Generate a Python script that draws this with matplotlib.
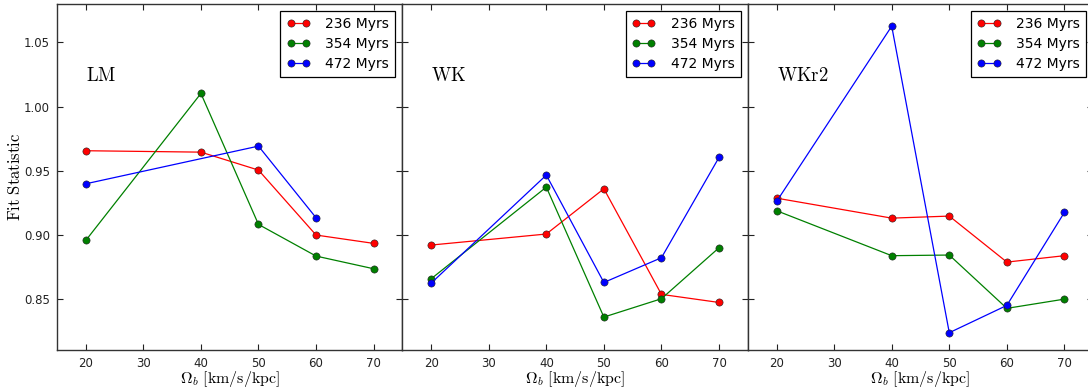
import matplotlib
matplotlib.use("Agg")
import matplotlib.pyplot as plt

plt.rcParams["mathtext.fontset"] = "cm"
plt.rcParams["font.family"] = ["DejaVu Sans"]

omega = [20, 40, 50, 60, 70]
ages = ["236 Myrs", "354 Myrs", "472 Myrs"]
colors = ["#ff0000", "#008000", "#0000ff"]
models = ["LM", "WK", "WKr2"]

# LM model
lm_236 = [0.9655, 0.9644, 0.9504, 0.8997, 0.8932]
lm_354 = [0.8955, 1.0102, 0.9080, 0.8833, 0.8734]
lm_472_x = [20, 50, 60]
lm_472 = [0.9397, 0.9691, 0.9132]

# WK model
wk_236 = [0.8919, 0.9005, 0.9358, 0.8534, 0.8471]
wk_354 = [0.8656, 0.9371, 0.8357, 0.8500, 0.8898]
wk_472 = [0.8622, 0.9465, 0.8627, 0.8820, 0.9603]

# WKr2 model
wkr2_236 = [0.9285, 0.9129, 0.9145, 0.8786, 0.8836]
wkr2_354 = [0.9187, 0.8836, 0.8841, 0.8425, 0.8497]
wkr2_472 = [0.9259, 1.0627, 0.8235, 0.8448, 0.9174]

panels = [
    [(omega, lm_236), (omega, lm_354), (lm_472_x, lm_472)],
    [(omega, wk_236), (omega, wk_354), (omega, wk_472)],
    [(omega, wkr2_236), (omega, wkr2_354), (omega, wkr2_472)],
]

W, H = 1088, 392
fig = plt.figure(figsize=(W / 100, H / 100), dpi=100)
fig.patch.set_facecolor("white")

ax_left, ax_w = 57, 345.4
ax_bottom, ax_top = 350, 4

for i, (model, series) in enumerate(zip(models, panels)):
    ax = fig.add_axes([(ax_left + i * ax_w) / W, (H - ax_bottom) / H,
                       ax_w / W, (ax_bottom - ax_top) / H])
    for (xs, ys), label, c in zip(series, ages, colors):
        ax.plot(xs, ys, "-o", color=c, lw=0.9, ms=5.2, mec="#202020",
                mew=0.4, label=label)
    ax.set_xlim(15, 75)
    ax.set_ylim(0.81, 1.08)
    ax.set_xticks([20, 30, 40, 50, 60, 70])
    ax.set_yticks([0.85, 0.90, 0.95, 1.00, 1.05])
    ax.tick_params(direction="in", length=4, width=0.8, top=True, right=True,
                   labelsize=8.5, pad=5, colors="#222222")
    if i > 0:
        ax.tick_params(labelleft=False)
    else:
        ax.set_ylabel(r"$\mathrm{Fit\ Statistic}$", fontsize=12, labelpad=0)
    for sp in ax.spines.values():
        sp.set_color("#333333")
        sp.set_linewidth(1.0)
    ax.set_xlabel(r"$\Omega_b\ [\mathrm{km/s/kpc}]$", fontsize=11.5,
                  labelpad=-1)
    ax.text(20, 1.0245, r"$\mathrm{%s}$" % model, fontsize=13.5,
            ha="left", va="center")
    leg = ax.legend(loc="upper right", fontsize=10, numpoints=2,
                    handlelength=1.7, handletextpad=1.1, borderpad=0.45,
                    labelspacing=0.42, borderaxespad=0.5, fancybox=False)
    leg.get_frame().set_edgecolor("black")
    leg.get_frame().set_linewidth(0.9)
    leg.get_frame().set_alpha(1.0)

fig.savefig("out.png", dpi=100, facecolor="white")
